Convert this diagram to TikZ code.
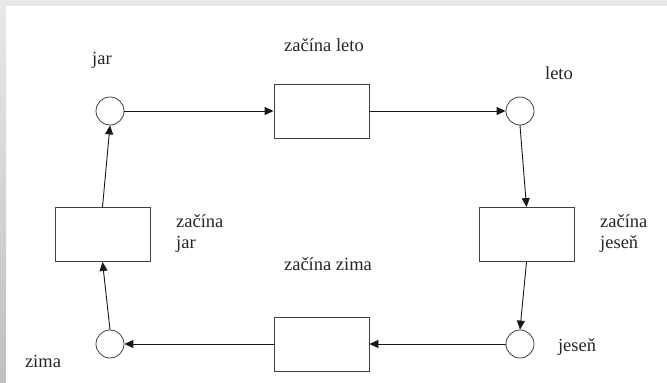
\documentclass[tikz,border=0pt]{standalone}
\usepackage{fontspec}
\setmainfont{Liberation Serif}
\usetikzlibrary{arrows.meta}
\begin{document}
\begin{tikzpicture}[x=1pt,y=-1pt,
  place/.style={draw=black!75,line width=0.8pt,circle,minimum size=28pt,inner sep=0pt},
  trans/.style={draw=black!75,line width=0.9pt,rectangle,minimum width=95pt,minimum height=54pt,inner sep=0pt},
  lbl/.style={font=\rmfamily\fontsize{18.5}{21}\selectfont,text=black!85,inner sep=0pt},
  arc/.style={-{Triangle[length=9pt,width=8pt]},line width=0.9pt,black!90}]
\fill[white] (0,0) rectangle (667,383);
\useasboundingbox (0,0) rectangle (667,383);
\fill[black!9] (0,0) rectangle (667,6);
\shade[top color=black!9,bottom color=black!25] (0,6) rectangle (6,383);

\node[place] (jar) at (110,111) {};
\node[place] (leto) at (520,111) {};
\node[place] (jesen) at (520,344) {};
\node[place] (zima) at (110,344) {};
\node[trans] (tleto) at (321.5,111) {};
\node[trans] (tzima) at (321.5,344) {};
\node[trans] (tjar) at (102.5,234.5) {};
\node[trans] (tjesen) at (526.5,234.5) {};

\draw[arc] (jar) -- (tleto);
\draw[arc] (tleto) -- (leto);
\draw[arc] (leto.south) -- (tjesen.north);
\draw[arc] (tjesen.south) -- (jesen.north);
\draw[arc] (jesen) -- (tzima);
\draw[arc] (tzima) -- (zima);
\draw[arc] (zima.north) -- (tjar.south);
\draw[arc] (tjar.north) -- (jar.south);

\node[lbl] (ljar) at (102,60) {jar};
\node[lbl] (lleto) at (559,73) {leto};
\node[lbl] (ljesen) at (577,347) {jeseň};
\node[lbl] (lzima) at (43,361) {zima};
\node[lbl] (ltleto) at (324,45) {začína leto};
\node[lbl] (ltzima) at (328,264) {začína zima};
\node[lbl,anchor=west,align=left] (ltjar) at (176,233.5) {začína\\jar};
\node[lbl,anchor=west,align=left] (ltjesen) at (600,233.5) {začína\\jeseň};
\end{tikzpicture}
\end{document}
